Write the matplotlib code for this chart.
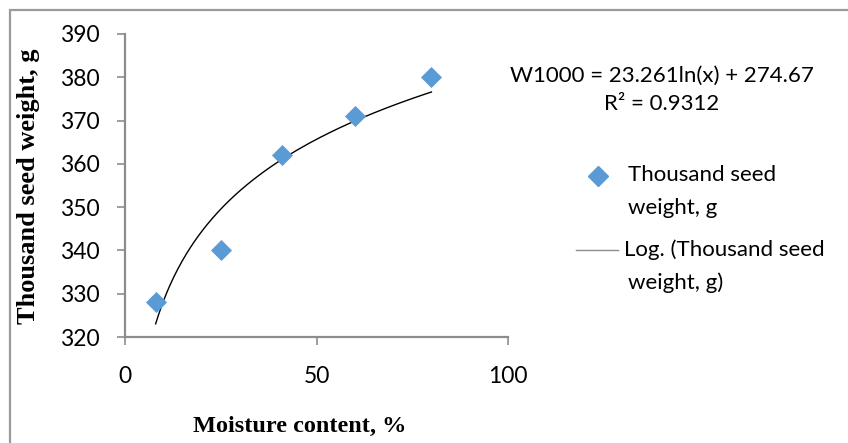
import numpy as np
import matplotlib
matplotlib.use("Agg")
import matplotlib.pyplot as plt
from matplotlib.lines import Line2D
from matplotlib.patches import Rectangle

# data
moisture = [8, 25, 41, 60, 80]
seed_weight = [328, 340, 362, 371, 380]
fit_a, fit_b = 23.261, 274.67
r2 = 0.9312

x_ticks = [0, 50, 100]
y_ticks = [320, 330, 340, 350, 360, 370, 380, 390]

blue = "#5B9BD5"
gray = "#8C8C8C"
sans = ["Lato", "DejaVu Sans"]
serif = ["Liberation Serif", "DejaVu Serif"]

fig = plt.figure(figsize=(8.48, 4.43), dpi=100)
fig.patches.append(Rectangle((10 / 848, -0.1), 2.0, 1.1 - 10 / 443,
                             transform=fig.transFigure, fill=False,
                             edgecolor="#9A9A9A", linewidth=1.6))

ax = fig.add_axes([125 / 848, 1 - 337 / 443, (508 - 125) / 848, (337 - 34) / 443])

ax.scatter(moisture, seed_weight, marker="D", s=115, color=blue, zorder=3,
           linewidths=0)

xs = np.linspace(min(moisture), max(moisture), 200)
ax.plot(xs, fit_a * np.log(xs) + fit_b, color="black", linewidth=1.0, zorder=2)

ax.set_xlim(0, 100)
ax.set_ylim(320, 390)
ax.set_xticks(x_ticks)
ax.set_yticks(y_ticks)
for s in ["top", "right"]:
    ax.spines[s].set_visible(False)
for s in ["left", "bottom"]:
    ax.spines[s].set_color(gray)
    ax.spines[s].set_linewidth(1.6)
ax.tick_params(axis="both", color=gray, width=1.2, length=6, direction="out")
ax.tick_params(axis="y", pad=12)
ax.tick_params(axis="x", pad=15)
for lab in ax.get_xticklabels() + ax.get_yticklabels():
    lab.set_family(sans)
    lab.set_fontsize(16.5)

fig.text(300 / 848, 1 - 426 / 443, "Moisture content, %", ha="center", va="center",
         family=serif, fontweight="bold", fontsize=17.5)
fig.text(29 / 848, 1 - 186 / 443, "Thousand seed weight, g", ha="center", va="center",
         rotation=90, family=serif, fontweight="bold", fontsize=19)

fig.text(662 / 848, 1 - 76 / 443, f"W1000 = {fit_a}ln(x) + {fit_b}", ha="center",
         va="center", family=sans, fontsize=16)
fig.text(662 / 848, 1 - 104 / 443, f"R² = {r2}", ha="center", va="center",
         family=sans, fontsize=16)

# legend drawn by hand
fig.lines.append(Line2D([598 / 848], [1 - 176 / 443], marker="D", markersize=10,
                        color=blue, linestyle="none", transform=fig.transFigure))
fig.text(628 / 848, 1 - 175 / 443, "Thousand seed", va="center", family=sans, fontsize=16)
fig.text(628 / 848, 1 - 208 / 443, "weight, g", va="center", family=sans, fontsize=16)
fig.lines.append(Line2D([576 / 848, 618 / 848], [1 - 250 / 443] * 2, color=gray,
                        linewidth=1.0, transform=fig.transFigure))
fig.text(624 / 848, 1 - 250 / 443, "Log. (Thousand seed", va="center", family=sans, fontsize=16)
fig.text(628 / 848, 1 - 283 / 443, "weight, g)", va="center", family=sans, fontsize=16)

fig.savefig("out.png", dpi=100)
